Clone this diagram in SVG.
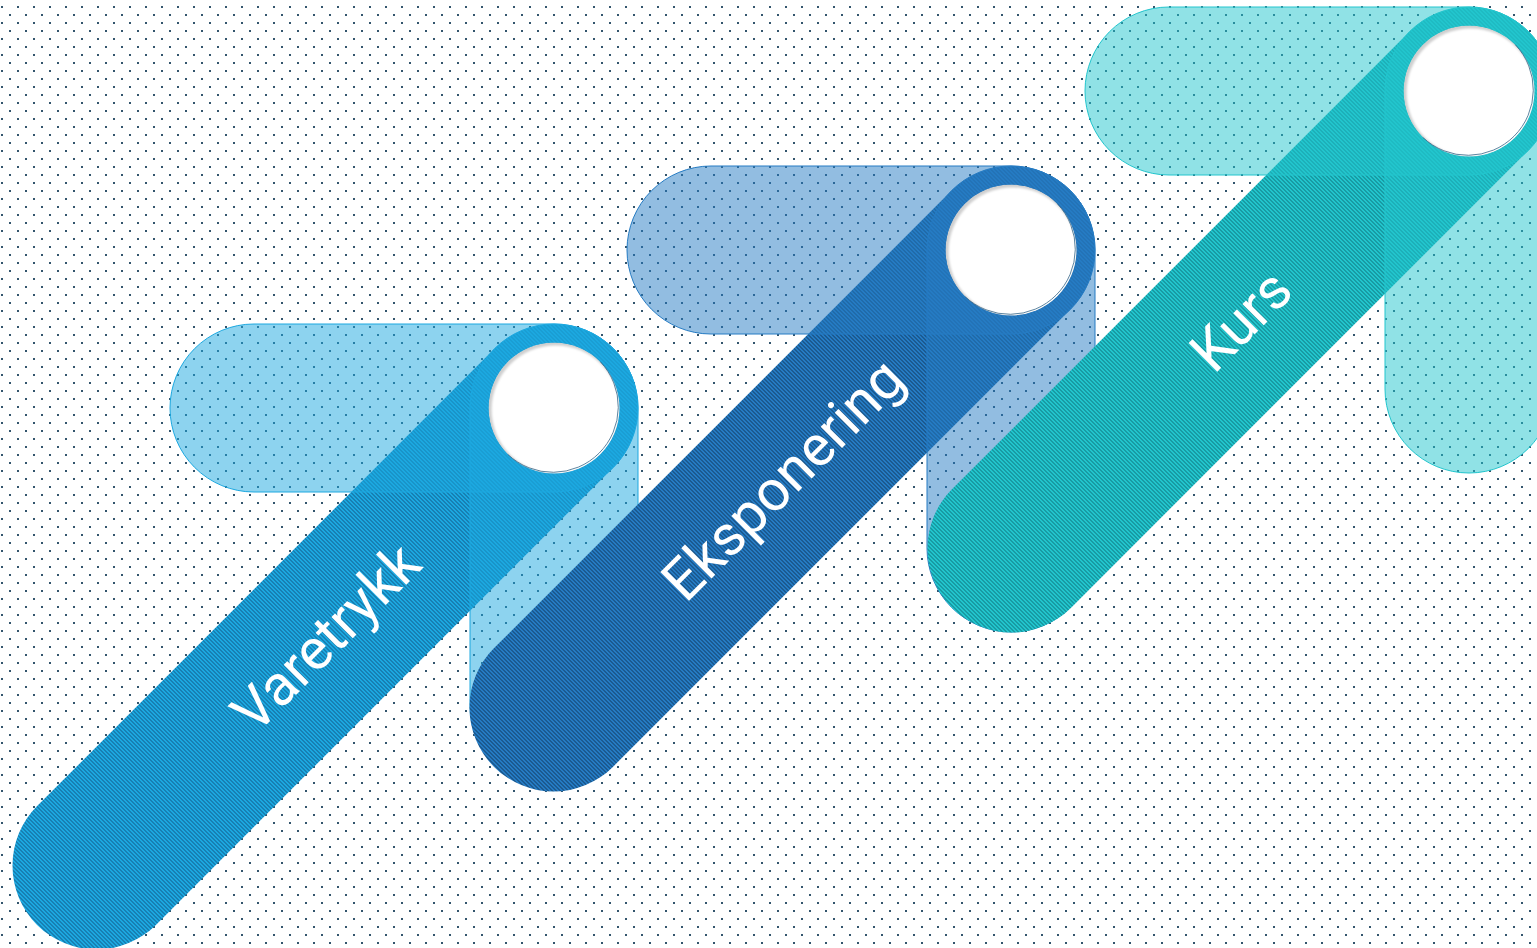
<svg xmlns="http://www.w3.org/2000/svg" width="1537" height="948" viewBox="0 0 1537 948">
<defs>
  <pattern id="dots" patternUnits="userSpaceOnUse" width="16" height="16">
    <rect x="1" y="6" width="2" height="2" fill="#33556d"/>
    <rect x="9" y="14" width="2" height="2" fill="#33556d"/>
  </pattern>
  <g id="steps" shape-rendering="crispEdges">
    <rect x="0" y="0" width="2" height="1"/><rect x="1" y="1" width="2" height="1"/>
    <rect x="2" y="2" width="2" height="1"/><rect x="3" y="3" width="1" height="1"/><rect x="0" y="3" width="1" height="1"/>
  </g>
  <pattern id="st1" patternUnits="userSpaceOnUse" width="4" height="4">
    <rect width="4" height="4" fill="#1ca8e0" shape-rendering="crispEdges"/><use href="#steps" fill="#1780b3"/>
  </pattern>
  <pattern id="st2" patternUnits="userSpaceOnUse" width="4" height="4">
    <rect width="4" height="4" fill="#257bc3" shape-rendering="crispEdges"/><use href="#steps" fill="#1b5a91"/>
  </pattern>
  <pattern id="st3" patternUnits="userSpaceOnUse" width="4" height="4">
    <rect width="4" height="4" fill="#22c5cd" shape-rendering="crispEdges"/><use href="#steps" fill="#189ba4"/>
  </pattern>
  <path id="diag" d="M-59.4-59.4A84 84 0 0 1 59.4 59.4L-398.1 516.9A84 84 0 0 1-516.9 398.1Z"/>
  <rect id="hpill" x="-384" y="-84" width="468" height="168" rx="84"/>
  <rect id="vpill" x="-84" y="-84" width="168" height="466" rx="84"/>
  <clipPath id="cc"><circle r="65.5"/></clipPath>
  <filter id="soft" x="-10%" y="-10%" width="120%" height="120%"><feGaussianBlur stdDeviation="0.8"/></filter>
  <g id="knob">
    <g clip-path="url(#cc)">
      <circle r="65.5" fill="#cfcfcf"/>
      <circle cx="1.8" cy="1.6" r="64.2" fill="#ffffff" filter="url(#soft)"/>
    </g>
    <path d="M46.3-46.3A65.5 65.5 0 0 1-46.3 46.3" fill="none" stroke="#2a5c80" stroke-width="1" stroke-opacity="0.75"/>
  </g>
</defs>
<style>
  .lbl { font-family: Roboto, "Liberation Sans", sans-serif; font-size: 57px; fill: #ffffff; text-anchor: middle; }
  .p1 { fill: #1ca8e0; fill-opacity: 0.5; stroke: #1ca8e0; stroke-width: 1; }
  .p2 { fill: #257bc3; fill-opacity: 0.5; stroke: #257bc3; stroke-width: 1; }
  .p3 { fill: #22c5cd; fill-opacity: 0.5; stroke: #22c5cd; stroke-width: 1; }
</style>
<rect width="1537" height="948" fill="#ffffff"/>
<rect width="1537" height="948" fill="url(#dots)"/>
<g id="connectors"></g>
<g id="node-varetrykk" transform="translate(554,408)">
  <use href="#diag" fill="url(#st1)"/>
  <use href="#hpill" class="p1"/>
  <use href="#vpill" class="p1"/>
  <use href="#knob"/>
  <text class="lbl" transform="translate(-228.75,228.75) rotate(-45)" y="20.5">Varetrykk</text>
</g>
<g id="node-eksponering" transform="translate(1011,250)">
  <use href="#diag" fill="url(#st2)"/>
  <use href="#hpill" class="p2"/>
  <use href="#vpill" class="p2"/>
  <use href="#knob"/>
  <text class="lbl" transform="translate(-228.75,228.75) rotate(-45)" y="20.5">Eksponering</text>
</g>
<g id="node-kurs" transform="translate(1469,91)">
  <use href="#diag" fill="url(#st3)"/>
  <use href="#hpill" class="p3"/>
  <use href="#vpill" class="p3"/>
  <use href="#knob"/>
  <text class="lbl" transform="translate(-228.75,228.75) rotate(-45)" y="20.5">Kurs</text>
</g>
</svg>
